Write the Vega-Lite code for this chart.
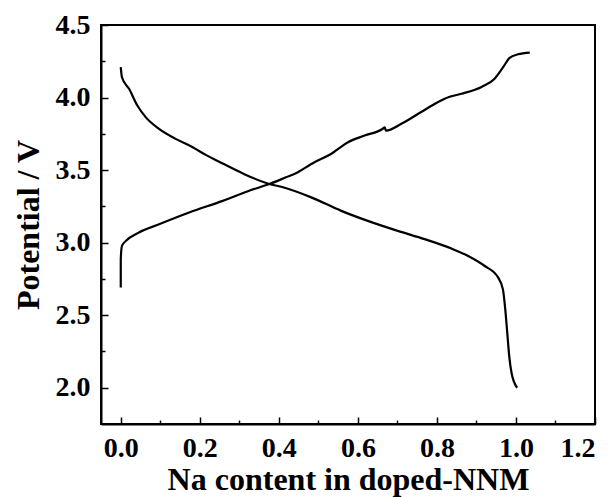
{
  "$schema": "https://vega.github.io/schema/vega-lite/v6.json",
  "autosize": {"type": "none"},
  "padding": {"left": 101, "top": 25, "right": 21, "bottom": 73},
  "width": 494,
  "height": 399,
  "background": "white",
  "config": {
    "view": {"stroke": "black", "strokeWidth": 2},
    "axis": {
      "labelFont": "Liberation Serif",
      "labelFontWeight": "bold",
      "labelFontSize": 28,
      "labelColor": "black",
      "titleFont": "Liberation Serif",
      "titleFontWeight": "bold",
      "titleFontSize": 32,
      "titleColor": "black",
      "domainColor": "black",
      "domainWidth": 2,
      "tickColor": "black",
      "tickWidth": 1.5,
      "grid": false
    }
  },
  "data": {
    "values": [
      {"s": "discharge", "i": 0, "x": 0.0, "v": 4.21},
      {"s": "discharge", "i": 1, "x": 0.003, "v": 4.14},
      {"s": "discharge", "i": 2, "x": 0.021, "v": 4.06},
      {"s": "discharge", "i": 3, "x": 0.042, "v": 3.945},
      {"s": "discharge", "i": 4, "x": 0.063, "v": 3.865},
      {"s": "discharge", "i": 5, "x": 0.097, "v": 3.784},
      {"s": "discharge", "i": 6, "x": 0.139, "v": 3.715},
      {"s": "discharge", "i": 7, "x": 0.182, "v": 3.658},
      {"s": "discharge", "i": 8, "x": 0.215, "v": 3.605},
      {"s": "discharge", "i": 9, "x": 0.258, "v": 3.545},
      {"s": "discharge", "i": 10, "x": 0.308, "v": 3.478},
      {"s": "discharge", "i": 11, "x": 0.376, "v": 3.404},
      {"s": "discharge", "i": 12, "x": 0.406, "v": 3.385},
      {"s": "discharge", "i": 13, "x": 0.482, "v": 3.312},
      {"s": "discharge", "i": 14, "x": 0.558, "v": 3.219},
      {"s": "discharge", "i": 15, "x": 0.625, "v": 3.15},
      {"s": "discharge", "i": 16, "x": 0.701, "v": 3.081},
      {"s": "discharge", "i": 17, "x": 0.769, "v": 3.024},
      {"s": "discharge", "i": 18, "x": 0.837, "v": 2.959},
      {"s": "discharge", "i": 19, "x": 0.879, "v": 2.908},
      {"s": "discharge", "i": 20, "x": 0.921, "v": 2.839},
      {"s": "discharge", "i": 21, "x": 0.955, "v": 2.759},
      {"s": "discharge", "i": 22, "x": 0.967, "v": 2.678},
      {"s": "discharge", "i": 23, "x": 0.973, "v": 2.539},
      {"s": "discharge", "i": 24, "x": 0.978, "v": 2.378},
      {"s": "discharge", "i": 25, "x": 0.983, "v": 2.216},
      {"s": "discharge", "i": 26, "x": 0.989, "v": 2.1},
      {"s": "discharge", "i": 27, "x": 1.003, "v": 2.0},
      {"s": "charge", "i": 0, "x": 0.0, "v": 2.69},
      {"s": "charge", "i": 1, "x": 0.0, "v": 2.885},
      {"s": "charge", "i": 2, "x": 0.003, "v": 2.977},
      {"s": "charge", "i": 3, "x": 0.013, "v": 3.012},
      {"s": "charge", "i": 4, "x": 0.046, "v": 3.07},
      {"s": "charge", "i": 5, "x": 0.097, "v": 3.127},
      {"s": "charge", "i": 6, "x": 0.173, "v": 3.208},
      {"s": "charge", "i": 7, "x": 0.258, "v": 3.288},
      {"s": "charge", "i": 8, "x": 0.325, "v": 3.358},
      {"s": "charge", "i": 9, "x": 0.376, "v": 3.404},
      {"s": "charge", "i": 10, "x": 0.418, "v": 3.45},
      {"s": "charge", "i": 11, "x": 0.439, "v": 3.473},
      {"s": "charge", "i": 12, "x": 0.49, "v": 3.554},
      {"s": "charge", "i": 13, "x": 0.532, "v": 3.611},
      {"s": "charge", "i": 14, "x": 0.575, "v": 3.692},
      {"s": "charge", "i": 15, "x": 0.617, "v": 3.738},
      {"s": "charge", "i": 16, "x": 0.663, "v": 3.785},
      {"s": "charge", "i": 17, "x": 0.668, "v": 3.795},
      {"s": "charge", "i": 18, "x": 0.671, "v": 3.772},
      {"s": "charge", "i": 19, "x": 0.71, "v": 3.819},
      {"s": "charge", "i": 20, "x": 0.76, "v": 3.9},
      {"s": "charge", "i": 21, "x": 0.803, "v": 3.969},
      {"s": "charge", "i": 22, "x": 0.832, "v": 4.005},
      {"s": "charge", "i": 23, "x": 0.862, "v": 4.026},
      {"s": "charge", "i": 24, "x": 0.913, "v": 4.073},
      {"s": "charge", "i": 25, "x": 0.946, "v": 4.13},
      {"s": "charge", "i": 26, "x": 0.968, "v": 4.211},
      {"s": "charge", "i": 27, "x": 0.984, "v": 4.273},
      {"s": "charge", "i": 28, "x": 1.005, "v": 4.298},
      {"s": "charge", "i": 29, "x": 1.035, "v": 4.31}
    ]
  },
  "resolve": {"axis": {"x": "independent", "y": "independent"}},
  "layer": [
    {
      "mark": {"type": "line", "color": "black", "strokeWidth": 2.2, "interpolate": "monotone"},
      "encoding": {
        "x": {
          "field": "x", "type": "quantitative",
          "scale": {"domain": [-0.05, 1.2], "nice": false, "zero": false},
          "axis": {
            "orient": "bottom",
            "values": [0, 0.2, 0.4, 0.6, 0.8, 1.0, 1.2],
            "format": ".1f",
            "tickSize": -7,
            "labelPadding": 17,
            "title": "Na content in doped-NNM",
            "titlePadding": 2
          }
        },
        "y": {
          "field": "v", "type": "quantitative",
          "scale": {"domain": [1.75, 4.5], "nice": false, "zero": false},
          "axis": {
            "orient": "left",
            "values": [2.0, 2.5, 3.0, 3.5, 4.0, 4.5],
            "format": ".1f",
            "tickSize": -7,
            "labelPadding": 18,
            "title": "Potential / V",
            "titlePadding": 10
          }
        },
        "detail": {"field": "s"},
        "order": {"field": "i", "type": "quantitative"}
      }
    },
    {
      "mark": {"type": "line", "opacity": 0},
      "encoding": {
        "x": {
          "field": "x", "type": "quantitative",
          "axis": {
            "orient": "bottom",
            "values": [0.1, 0.3, 0.5, 0.7, 0.9, 1.1],
            "labels": false,
            "domain": false,
            "tickSize": -4,
            "title": null
          }
        },
        "y": {
          "field": "v", "type": "quantitative",
          "axis": {
            "orient": "left",
            "values": [2.25, 2.75, 3.25, 3.75, 4.25],
            "labels": false,
            "domain": false,
            "tickSize": -4,
            "title": null
          }
        },
        "detail": {"field": "s"},
        "order": {"field": "i", "type": "quantitative"}
      }
    }
  ]
}
